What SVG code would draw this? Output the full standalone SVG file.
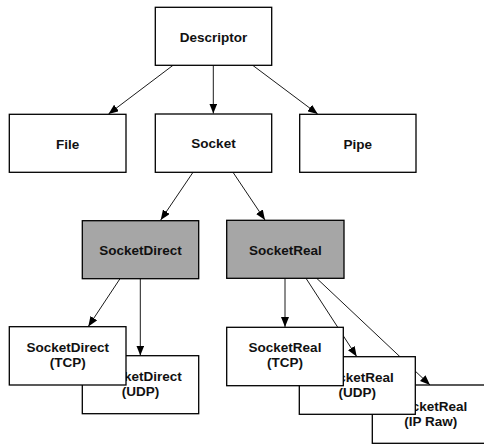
<svg xmlns="http://www.w3.org/2000/svg" width="484" height="445" viewBox="0 0 484 445">
<style>
.box{fill:#fff;stroke:#000;stroke-width:1.3}
.gray{fill:#a6a6a6;stroke:#000;stroke-width:1.3}
.lbl{font-family:"Liberation Sans",Arial,sans-serif;font-weight:bold;font-size:13.5px;fill:#111;text-anchor:middle}
.edge{stroke:#000;stroke-width:0.9;fill:none;marker-end:url(#arr)}
</style>
<defs>
<marker id="arr" viewBox="0 0 10 8" refX="10" refY="4" markerWidth="10" markerHeight="8" markerUnits="userSpaceOnUse" orient="auto">
<path d="M0,0 L10,4 L0,8 Z" fill="#000"/>
</marker>
</defs>
<rect width="484" height="445" fill="#fff"/>
<g id="connectors">
<line class="edge" x1="173" y1="65.3" x2="108.5" y2="114"/>
<line class="edge" x1="213.3" y1="65.3" x2="213.3" y2="113.5"/>
<line class="edge" x1="252.7" y1="65.3" x2="317.7" y2="114"/>
<line class="edge" x1="193" y1="172.3" x2="160.7" y2="220"/>
<line class="edge" x1="233" y1="172.3" x2="265" y2="220"/>
<line class="edge" x1="120" y1="278.7" x2="88.3" y2="326.5"/>
<line class="edge" x1="140.3" y1="278.7" x2="140.3" y2="355.5"/>
<line class="edge" x1="285" y1="278.3" x2="285" y2="327"/>
<line class="edge" x1="306" y1="278.3" x2="356.7" y2="356.5"/>
<line class="edge" x1="316.7" y1="278.3" x2="430" y2="385"/>
</g>
<g id="descriptor"><rect class="box" x="155.3" y="7.3" width="116.4" height="58"/><text class="lbl" x="213.5" y="41.5">Descriptor</text></g>
<g id="file"><rect class="box" x="9.3" y="114.3" width="116.7" height="58"/><text class="lbl" x="67.7" y="148.5">File</text></g>
<g id="socket"><rect class="box" x="155.3" y="114" width="116.4" height="58.3"/><text class="lbl" x="213.5" y="147.5">Socket</text></g>
<g id="pipe"><rect class="box" x="299.7" y="114.3" width="116.3" height="58"/><text class="lbl" x="357.8" y="148.5">Pipe</text></g>
<g id="socketdirect"><rect class="gray" x="82.3" y="220.7" width="116.4" height="58"/><text class="lbl" x="140.5" y="254.5">SocketDirect</text></g>
<g id="socketreal"><rect class="gray" x="226.7" y="220.3" width="117.3" height="58"/><text class="lbl" x="285.3" y="254.5">SocketReal</text></g>
<g id="socketreal-ipraw"><rect class="box" x="372.3" y="385" width="117" height="58.3"/><text class="lbl" x="430.8" y="410.5">SocketReal</text><text class="lbl" x="430.8" y="425.5">(IP Raw)</text></g>
<g id="socketreal-udp"><rect class="box" x="299.3" y="356.7" width="116" height="57.6"/><text class="lbl" x="357.3" y="382">SocketReal</text><text class="lbl" x="357.3" y="397">(UDP)</text></g>
<g id="socketreal-tcp"><rect class="box" x="226.7" y="327.3" width="116.6" height="58.4"/><text class="lbl" x="285" y="352">SocketReal</text><text class="lbl" x="285" y="367">(TCP)</text></g>
<g id="socketdirect-udp"><rect class="box" x="82.3" y="355.7" width="116.4" height="58"/><text class="lbl" x="140.5" y="381">SocketDirect</text><text class="lbl" x="140.5" y="396">(UDP)</text></g>
<g id="socketdirect-tcp"><rect class="box" x="9.3" y="326.7" width="116.7" height="58.3"/><text class="lbl" x="67.7" y="352.3">SocketDirect</text><text class="lbl" x="67.7" y="367.3">(TCP)</text></g>
</svg>
